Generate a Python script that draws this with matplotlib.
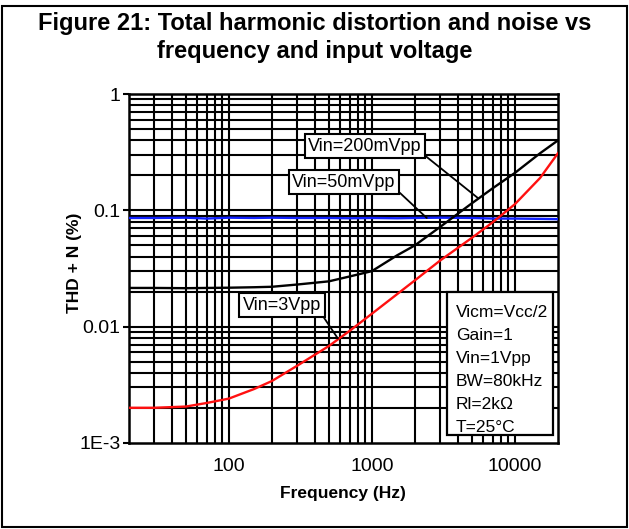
import matplotlib
matplotlib.use("Agg")
import matplotlib.pyplot as plt
from matplotlib.patches import Rectangle
from matplotlib.ticker import FixedLocator, FixedFormatter, NullFormatter
import numpy as np

plt.rcParams['font.family'] = ['Liberation Sans', 'DejaVu Sans']

# values
freq = [20, 30, 50, 70, 100, 150, 200, 300, 500, 700, 1000, 1500, 2000,
        3000, 5000, 7000, 10000, 15000, 20000]
thd_3vpp = [0.0020, 0.0020, 0.00205, 0.0022, 0.0024, 0.0029, 0.0034, 0.0046,
            0.0068, 0.0092, 0.0129, 0.019, 0.025, 0.037, 0.058, 0.079, 0.113,
            0.19, 0.31]
thd_200mvpp = [0.0215, 0.0215, 0.0214, 0.0215, 0.0216, 0.0218, 0.022, 0.023,
               0.0245, 0.027, 0.030, 0.041, 0.050, 0.072, 0.115, 0.155, 0.21,
               0.31, 0.40]
thd_50mvpp = [0.086, 0.086, 0.0865, 0.085, 0.0865, 0.086, 0.0865, 0.086,
              0.086, 0.0855, 0.086, 0.0855, 0.086, 0.0865, 0.086, 0.085,
              0.085, 0.0845, 0.084]

y_ticks = [0.001, 0.01, 0.1, 1]
y_labels = ['1E-3', '0.01', '0.1', '1']
x_ticks = [100, 1000, 10000]
x_labels = ['100', '1000', '10000']

conditions = ['Vicm=Vcc/2', 'Gain=1', 'Vin=1Vpp', 'BW=80kHz', 'Rl=2k\u03a9', 'T=25\u00b0C']

fig = plt.figure(figsize=(6.29, 5.29), dpi=100)
ax = fig.add_axes([0.205, 0.163, 0.682, 0.659])

ax.set_xscale('log')
ax.set_yscale('log')
ax.set_xlim(20, 20000)
ax.set_ylim(0.001, 1)

# grid on every decade subdivision
gx = [m * 10 ** e for e in range(1, 5) for m in range(1, 10)]
gy = [m * 10 ** e for e in range(-3, 0) for m in range(1, 10)]
for v in gx:
    if 20 < v < 20000:
        ax.axvline(v, color='black', lw=1.5, zorder=1)
for v in gy:
    if 0.001 < v < 1:
        ax.axhline(v, color='black', lw=1.5, zorder=1)

ax.plot(freq, thd_50mvpp, color='#1020ff', lw=1.7, zorder=3)
ax.plot(freq, thd_200mvpp, color='black', lw=1.7, zorder=3)
ax.plot(freq, thd_3vpp, color='#ff1010', lw=1.7, zorder=3)

ax.yaxis.set_major_locator(FixedLocator(y_ticks))
ax.yaxis.set_major_formatter(FixedFormatter(y_labels))
ax.yaxis.set_minor_formatter(NullFormatter())
ax.xaxis.set_major_locator(FixedLocator(x_ticks))
ax.xaxis.set_major_formatter(FixedFormatter(x_labels))
ax.xaxis.set_minor_formatter(NullFormatter())
ax.tick_params(axis='both', which='major', labelsize=14, length=4, width=1.5, pad=2)
ax.tick_params(axis='both', which='minor', length=0)
ax.tick_params(axis='x', length=0, pad=11)
for s in ax.spines.values():
    s.set_linewidth(1.8)

ax.set_xlabel('Frequency (Hz)', fontsize=12.5, fontweight='bold')
ax.set_ylabel('THD + N (%)', fontsize=12.5, fontweight='bold')
ax.xaxis.set_label_coords(0.5, -0.123)
ax.yaxis.set_label_coords(-0.11, 0.516)

box = dict(boxstyle='square,pad=0.2', fc='white', ec='black', lw=1.5)
arrow = dict(arrowstyle='-', color='black', lw=1.3, shrinkA=0, shrinkB=0)
ax.annotate('Vin=200mVpp', xy=(5500, 0.128), xytext=(0.55, 0.851),
            textcoords='axes fraction', ha='center', va='center', fontsize=13,
            bbox=box, arrowprops=dict(arrow, relpos=(1, 0.1)), zorder=5)
ax.annotate('Vin=50mVpp', xy=(2420, 0.086), xytext=(0.501, 0.748),
            textcoords='axes fraction', ha='center', va='center', fontsize=13,
            bbox=box, arrowprops=dict(arrow, relpos=(1, 0.1)), zorder=5)
ax.annotate('Vin=3Vpp', xy=(578, 0.0079), xytext=(0.357, 0.395),
            textcoords='axes fraction', ha='center', va='center', fontsize=13,
            bbox=box, arrowprops=dict(arrow, relpos=(1, 0.0)), zorder=5)

ax.add_patch(Rectangle((0.741, 0.023), 0.247, 0.41, transform=ax.transAxes,
                       fc='white', ec='black', lw=1.6, zorder=6))
for i, t in enumerate(conditions):
    ax.text(0.762, 0.375 - i * 0.066, t, transform=ax.transAxes, fontsize=12.5,
            va='center', ha='left', zorder=7)

fig.text(0.5, 0.956, 'Figure 21: Total harmonic distortion and noise vs',
         ha='center', va='center', fontsize=17, fontweight='bold')
fig.text(0.5, 0.902, 'frequency and input voltage',
         ha='center', va='center', fontsize=17, fontweight='bold')

fig.add_artist(Rectangle((1.5 / 629, 2.5 / 529), 625 / 629, 521 / 529,
                         transform=fig.transFigure, fill=False, ec='black', lw=1.5))

fig.savefig('out.png', dpi=100)
